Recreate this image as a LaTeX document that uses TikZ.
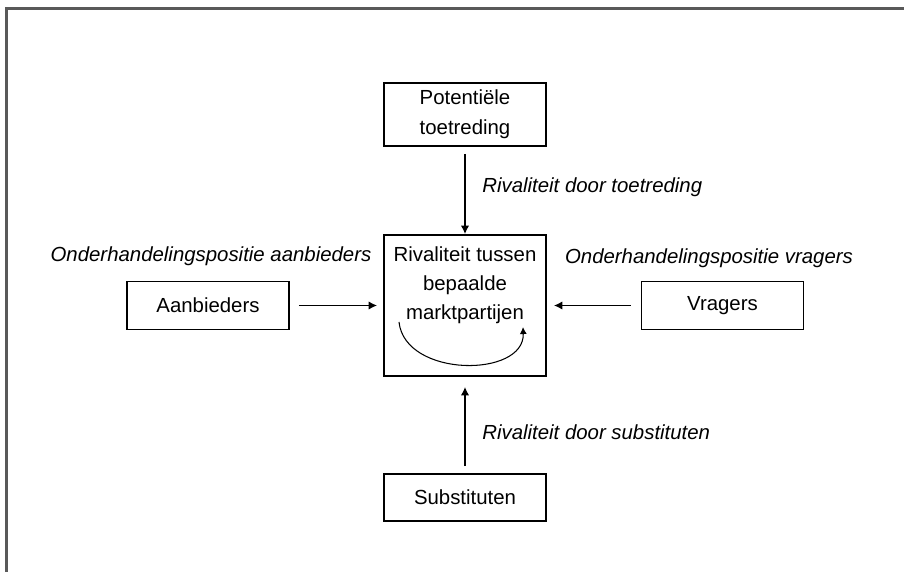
\documentclass[tikz,border=0pt]{standalone}
\usepackage{fontspec}
\setmainfont{Liberation Sans}
\usepackage{tikz}
\usetikzlibrary{positioning,arrows.meta}
\tikzset{
  box/.style={draw=black, line width=1pt, fill=white, align=center, minimum width=3.24cm, minimum height=#1, inner sep=2pt, font=\fontsize{11.6}{17}\selectfont},
  box/.default={0.96cm},
  lbl/.style={font=\fontsize{11.6}{14}\selectfont\itshape, inner sep=0pt},
  arrow/.style={-{Latex[length=1.7mm,width=1.7mm]}, line width=1.1pt}
}

\begin{document}
\begin{tikzpicture}
  \useasboundingbox (-9.30,-5.33) rectangle (8.78,6.11);
  \draw[black!65, line width=1.2pt] (-9.17,-5.33) -- (-9.17,5.94) -- (8.78,5.94);
  \node[box=2.82cm] (rival) at (0,0) {};
  \node[align=center, inner sep=0pt, font=\fontsize{11.6}{16.5}\selectfont] (rivtxt) at (0,0.40) {Rivaliteit tussen\\bepaalde\\marktpartijen};
  \node[box=1.26cm] (entry) at (0,3.82) {Potentiële\\toetreding};
  \node[box=0.94cm] (subst) at (0,-3.84) {Substituten};
  \node[box] (supply) at (-5.14,0) {Aanbieders};
  \node[box] (demand) at (5.15,0) {Vragers};
  \node[lbl, anchor=west] (lentry) at (0.34,2.37) {Rivaliteit door toetreding};
  \node[lbl, anchor=west] (lsubst) at (0.34,-2.53) {Rivaliteit door substituten};
  \node[lbl] (lsupply) at (-5.08,0.99) {Onderhandelingspositie aanbieders};
  \node[lbl] (ldemand) at (4.88,0.95) {Onderhandelingspositie vragers};
  \draw[arrow, shorten <=0.14cm] (entry) -- (rival);
  \draw[arrow, shorten <=0.18cm, shorten >=0.12cm] (supply) -- (rival);
  \draw[arrow, shorten <=0.2cm, shorten >=0.14cm] (demand) -- (rival);
  \draw[arrow, shorten <=0.14cm, shorten >=0.2cm] (subst) -- (rival);
  % loop inside the market box
  \coordinate (loopa) at (-1.32,-0.33);
  \coordinate (loopb) at (1.16,-0.43);
  \draw[-{Latex[length=1.4mm,width=1.4mm]}, line width=0.6pt] (loopa) .. controls (-1.2,-1.45) and (1.2,-1.45) .. (loopb);
\end{tikzpicture}
\end{document}
